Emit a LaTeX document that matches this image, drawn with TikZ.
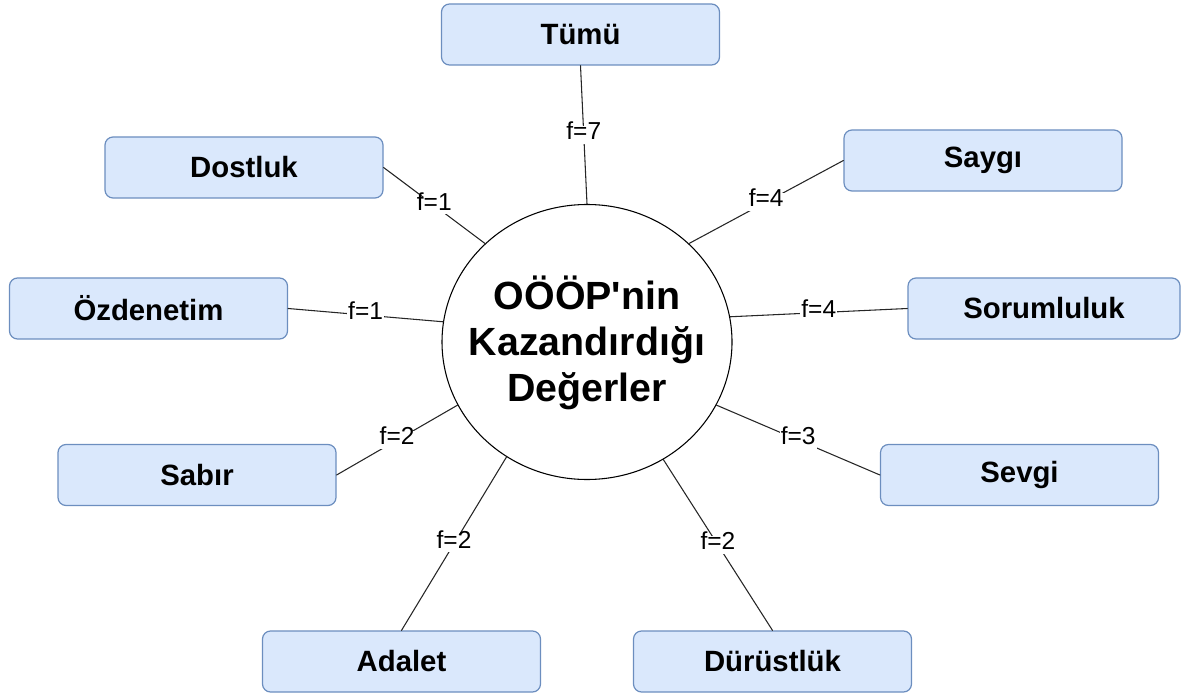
\documentclass[tikz,border=0pt]{standalone}
\usepackage{fontspec}
\setmainfont{Liberation Sans}
\usetikzlibrary{shapes.geometric}
\definecolor{kutudolgu}{HTML}{DAE8FC}
\definecolor{kutucizgi}{HTML}{6C8EBF}
\begin{document}
\begin{tikzpicture}[x=0.75pt, y=-0.75pt, line join = round, line cap = round,
    kutu/.style={draw=kutucizgi, fill=kutudolgu, line width=0.9pt, rounded corners=6pt,
      minimum width=208.5pt, minimum height=45.75pt, inner sep=0pt,
      font=\bfseries\fontsize{22}{26}\selectfont},
    deger/.style={fill=white, inner xsep=0.8pt, inner ysep=3pt, text height=0.72em, text depth=0pt,
      font=\fontsize{18.4}{22}\selectfont},
    bag/.style={line width=0.8pt, draw=black!85}]
      \useasboundingbox (0,0) rectangle (1181,695);

      \node[ellipse, draw, line width=0.8pt, minimum width=217.5pt, minimum height=206.25pt, inner sep=0pt,
        label={[align=center, font=\bfseries\fontsize{29.5}{34.5}\selectfont, yshift=-1pt]center:OÖÖP\textquotesingle nin\\Kazandırdığı\\Değerler}]
        (merkez) at (587,342) {};

      \node[kutu] (tumu) at (580.5,34.5) {Tümü};
      \node[kutu] (dostluk) at (244,167.5) {Dostluk};
      \node[kutu] (saygi) at (983,160.5) {Saygı};
      \node[kutu] (ozdenetim) at (148.5,308.5) {Özdenetim};
      \node[kutu, minimum width=204pt] (sorumluluk) at (1044,308.5) {Sorumluluk};
      \node[kutu] (sabir) at (197,475) {Sabır};
      \node[kutu] (sevgi) at (1019.5,475) {Sevgi};
      \node[kutu] (adalet) at (401.5,661.5) {Adalet};
      \node[kutu] (durustluk) at (772.5,661.5) {Dürüstlük};

      \draw[bag] (tumu.south) -- node[deger] {f=7} (merkez.90);
      \draw[bag] (dostluk.east) -- node[deger] {f=1} (merkez.136);
      \draw[bag] (saygi.west) -- node[deger] {f=4} (merkez.44);
      \draw[bag] (ozdenetim.east) -- node[deger] {f=1} (merkez.172.5);
      \draw[bag] (sorumluluk.west) -- node[deger] {f=4} (merkez.10);
      \draw[bag] (sabir.east) -- node[deger] {f=2} (merkez.206);
      \draw[bag] (sevgi.west) -- node[deger] {f=3} (merkez.334);
      \draw[bag] (adalet.north) -- node[deger] {f=2} (merkez.235);
      \draw[bag] (durustluk.north) -- node[deger] {f=2} (merkez.303);
    \end{tikzpicture}
\end{document}
